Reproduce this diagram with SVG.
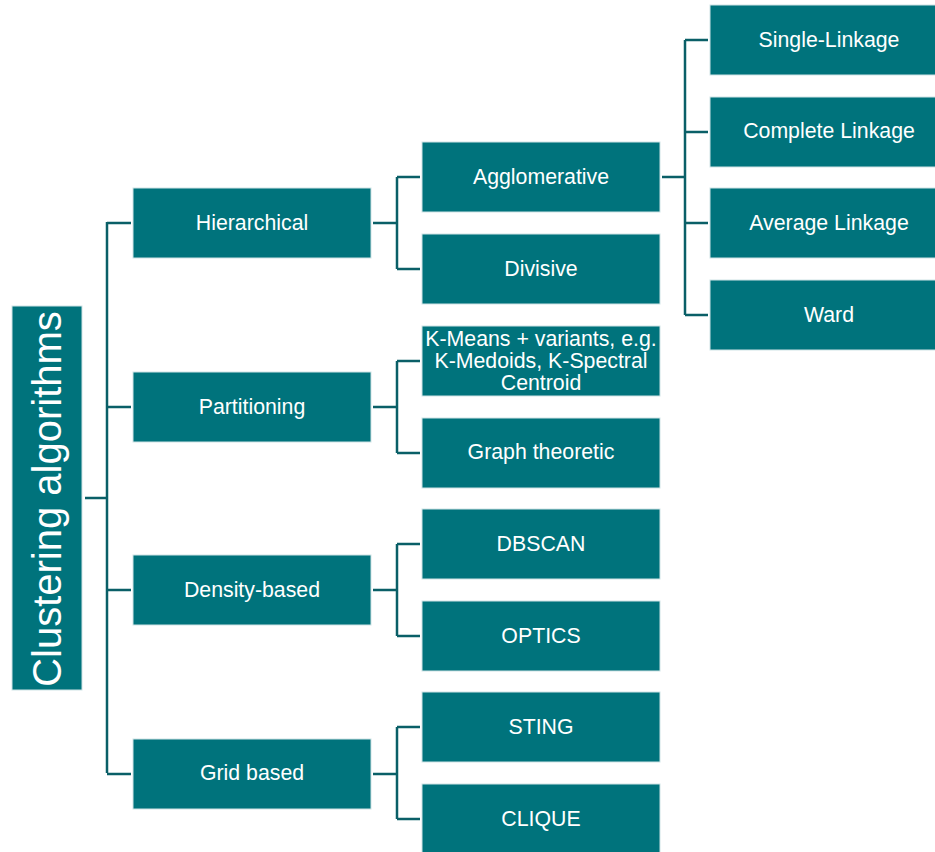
<svg xmlns="http://www.w3.org/2000/svg" width="935" height="852" viewBox="0 0 935 852">
<style>
.box{fill:#00737C;stroke:#cfe3e5;stroke-width:1}
.t{font-family:"Liberation Sans",Arial,sans-serif;font-size:21.3px;fill:#ffffff;text-anchor:middle}
.c{fill:none;stroke:#0A5F67;stroke-width:2.5}
</style>
<rect width="935" height="852" fill="#ffffff"/>
<g id="connectors">
<path class="c" d="M85,498H107M107,222V773M107,223H131M107,407H131M107,590H131M107,774H131"/>
<path class="c" d="M373,223H397M397,177V269M397,177H420M397,269H420"/>
<path class="c" d="M373,407H397M397,361V453M397,361H420M397,453H420"/>
<path class="c" d="M373,590H397M397,544V636M397,544H420M397,636H420"/>
<path class="c" d="M373,774H397M397,727V819M397,727H420M397,819H420"/>
<path class="c" d="M662,177H685M685,40V315M685,40H708M685,132H708M685,223H708M685,315H708"/>
</g>
<g id="root"><rect class="box" x="12" y="306" width="70" height="384"/><text class="t" style="font-size:40px" transform="translate(61,499) rotate(-90)" x="0" y="0">Clustering algorithms</text></g>
<g id="hierarchical"><rect class="box" x="133" y="188" width="238" height="70"/><text class="t" x="252" y="230">Hierarchical</text></g>
<g id="partitioning"><rect class="box" x="133" y="372" width="238" height="70"/><text class="t" x="252" y="414">Partitioning</text></g>
<g id="density"><rect class="box" x="133" y="555" width="238" height="70"/><text class="t" x="252" y="597">Density-based</text></g>
<g id="grid"><rect class="box" x="133" y="739" width="238" height="70"/><text class="t" x="252" y="780">Grid based</text></g>
<g id="agglomerative"><rect class="box" x="422" y="142" width="238" height="70"/><text class="t" x="541" y="184">Agglomerative</text></g>
<g id="divisive"><rect class="box" x="422" y="234" width="238" height="70"/><text class="t" x="541" y="276">Divisive</text></g>
<g id="kmeans"><rect class="box" x="422" y="326" width="238" height="70"/><text class="t" x="541" y="346">K-Means + variants, e.g.</text><text class="t" x="541" y="368">K-Medoids, K-Spectral</text><text class="t" x="541" y="390">Centroid</text></g>
<g id="graph"><rect class="box" x="422" y="418" width="238" height="70"/><text class="t" x="541" y="459">Graph theoretic</text></g>
<g id="dbscan"><rect class="box" x="422" y="509" width="238" height="70"/><text class="t" x="541" y="551">DBSCAN</text></g>
<g id="optics"><rect class="box" x="422" y="601" width="238" height="70"/><text class="t" x="541" y="643">OPTICS</text></g>
<g id="sting"><rect class="box" x="422" y="692" width="238" height="70"/><text class="t" x="541" y="734">STING</text></g>
<g id="clique"><rect class="box" x="422" y="784" width="238" height="70"/><text class="t" x="541" y="826">CLIQUE</text></g>
<g id="single"><rect class="box" x="710" y="5" width="238" height="70"/><text class="t" x="829" y="47">Single-Linkage</text></g>
<g id="complete"><rect class="box" x="710" y="97" width="238" height="70"/><text class="t" x="829" y="138">Complete Linkage</text></g>
<g id="average"><rect class="box" x="710" y="188" width="238" height="70"/><text class="t" x="829" y="230">Average Linkage</text></g>
<g id="ward"><rect class="box" x="710" y="280" width="238" height="70"/><text class="t" x="829" y="322">Ward</text></g>
</svg>
